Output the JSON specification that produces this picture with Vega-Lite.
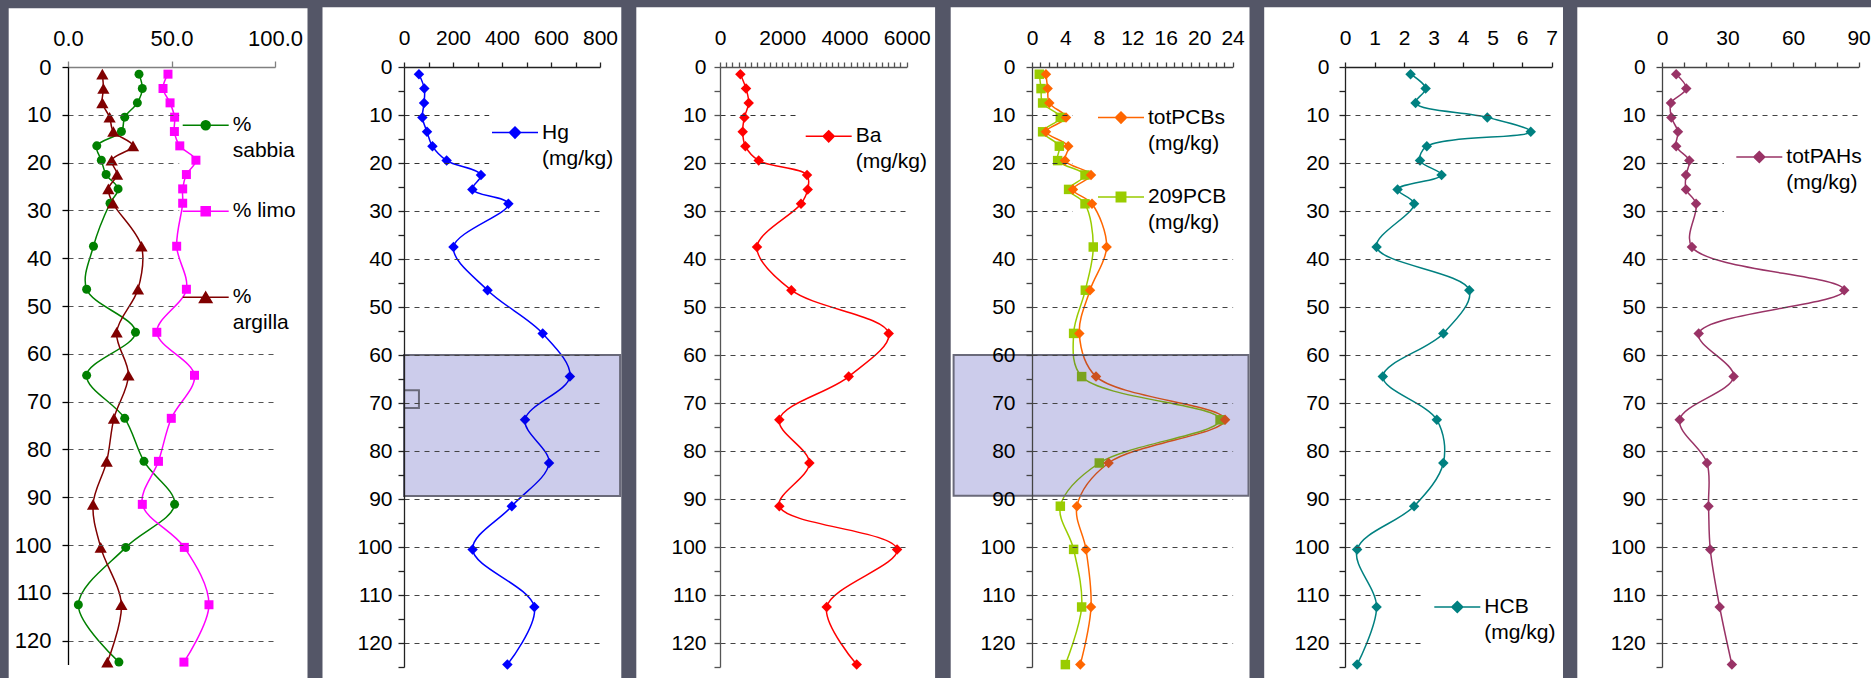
{
  "$schema": "https://vega.github.io/schema/vega-lite/v6.json",
  "background": "#545667",
  "padding": {"left": 8, "top": 7, "right": 0, "bottom": 0},
  "spacing": 14,
  "datasets": {
    "gran": [
      {"series": "% sabbia", "depth": 1.5, "value": 34.3}, {"series": "% sabbia", "depth": 4.5, "value": 35.9}, {"series": "% sabbia", "depth": 7.5, "value": 33.5}, {"series": "% sabbia", "depth": 10.5, "value": 27.4}, {"series": "% sabbia", "depth": 13.5, "value": 25.8}, {"series": "% sabbia", "depth": 16.5, "value": 13.9}, {"series": "% sabbia", "depth": 19.5, "value": 16.1}, {"series": "% sabbia", "depth": 22.5, "value": 18.4}, {"series": "% sabbia", "depth": 25.5, "value": 24.2}, {"series": "% sabbia", "depth": 28.5, "value": 20.3}, {"series": "% sabbia", "depth": 37.5, "value": 12.3}, {"series": "% sabbia", "depth": 46.5, "value": 9.0}, {"series": "% sabbia", "depth": 55.5, "value": 32.6}, {"series": "% sabbia", "depth": 64.5, "value": 9.0}, {"series": "% sabbia", "depth": 73.5, "value": 27.4}, {"series": "% sabbia", "depth": 82.5, "value": 36.7}, {"series": "% sabbia", "depth": 91.5, "value": 51.5}, {"series": "% sabbia", "depth": 100.5, "value": 27.9}, {"series": "% sabbia", "depth": 112.5, "value": 5.0}, {"series": "% sabbia", "depth": 124.5, "value": 24.6},
      {"series": "% limo", "depth": 1.5, "value": 48.3}, {"series": "% limo", "depth": 4.5, "value": 45.9}, {"series": "% limo", "depth": 7.5, "value": 49.3}, {"series": "% limo", "depth": 10.5, "value": 51.5}, {"series": "% limo", "depth": 13.5, "value": 51.4}, {"series": "% limo", "depth": 16.5, "value": 54.0}, {"series": "% limo", "depth": 19.5, "value": 61.8}, {"series": "% limo", "depth": 22.5, "value": 57.2}, {"series": "% limo", "depth": 25.5, "value": 55.4}, {"series": "% limo", "depth": 28.5, "value": 55.4}, {"series": "% limo", "depth": 37.5, "value": 52.5}, {"series": "% limo", "depth": 46.5, "value": 57.2}, {"series": "% limo", "depth": 55.5, "value": 42.9}, {"series": "% limo", "depth": 64.5, "value": 61.1}, {"series": "% limo", "depth": 73.5, "value": 49.9}, {"series": "% limo", "depth": 82.5, "value": 43.7}, {"series": "% limo", "depth": 91.5, "value": 35.9}, {"series": "% limo", "depth": 100.5, "value": 56.2}, {"series": "% limo", "depth": 112.5, "value": 68.1}, {"series": "% limo", "depth": 124.5, "value": 56.0},
      {"series": "% argilla", "depth": 1.5, "value": 16.6}, {"series": "% argilla", "depth": 4.5, "value": 17.1}, {"series": "% argilla", "depth": 7.5, "value": 16.6}, {"series": "% argilla", "depth": 10.5, "value": 20.1}, {"series": "% argilla", "depth": 13.5, "value": 21.9}, {"series": "% argilla", "depth": 16.5, "value": 31.4}, {"series": "% argilla", "depth": 19.5, "value": 21.1}, {"series": "% argilla", "depth": 22.5, "value": 23.7}, {"series": "% argilla", "depth": 25.5, "value": 19.5}, {"series": "% argilla", "depth": 28.5, "value": 21.7}, {"series": "% argilla", "depth": 37.5, "value": 35.5}, {"series": "% argilla", "depth": 46.5, "value": 33.8}, {"series": "% argilla", "depth": 55.5, "value": 23.5}, {"series": "% argilla", "depth": 64.5, "value": 29.2}, {"series": "% argilla", "depth": 73.5, "value": 22.2}, {"series": "% argilla", "depth": 82.5, "value": 18.7}, {"series": "% argilla", "depth": 91.5, "value": 12.1}, {"series": "% argilla", "depth": 100.5, "value": 15.8}, {"series": "% argilla", "depth": 112.5, "value": 25.8}, {"series": "% argilla", "depth": 124.5, "value": 19.0}
    ],
    "hg": [
      {"series": "Hg (mg/kg)", "depth": 1.5, "value": 61}, {"series": "Hg (mg/kg)", "depth": 4.5, "value": 83}, {"series": "Hg (mg/kg)", "depth": 7.5, "value": 82}, {"series": "Hg (mg/kg)", "depth": 10.5, "value": 75}, {"series": "Hg (mg/kg)", "depth": 13.5, "value": 94}, {"series": "Hg (mg/kg)", "depth": 16.5, "value": 116}, {"series": "Hg (mg/kg)", "depth": 19.5, "value": 174}, {"series": "Hg (mg/kg)", "depth": 22.5, "value": 314}, {"series": "Hg (mg/kg)", "depth": 25.5, "value": 279}, {"series": "Hg (mg/kg)", "depth": 28.5, "value": 426}, {"series": "Hg (mg/kg)", "depth": 37.5, "value": 202}, {"series": "Hg (mg/kg)", "depth": 46.5, "value": 341}, {"series": "Hg (mg/kg)", "depth": 55.5, "value": 566}, {"series": "Hg (mg/kg)", "depth": 64.5, "value": 677}, {"series": "Hg (mg/kg)", "depth": 73.5, "value": 494}, {"series": "Hg (mg/kg)", "depth": 82.5, "value": 592}, {"series": "Hg (mg/kg)", "depth": 91.5, "value": 440}, {"series": "Hg (mg/kg)", "depth": 100.5, "value": 280}, {"series": "Hg (mg/kg)", "depth": 112.5, "value": 532}, {"series": "Hg (mg/kg)", "depth": 124.5, "value": 422}
    ],
    "ba": [
      {"series": "Ba (mg/kg)", "depth": 1.5, "value": 655}, {"series": "Ba (mg/kg)", "depth": 4.5, "value": 836}, {"series": "Ba (mg/kg)", "depth": 7.5, "value": 922}, {"series": "Ba (mg/kg)", "depth": 10.5, "value": 784}, {"series": "Ba (mg/kg)", "depth": 13.5, "value": 729}, {"series": "Ba (mg/kg)", "depth": 16.5, "value": 815}, {"series": "Ba (mg/kg)", "depth": 19.5, "value": 1243}, {"series": "Ba (mg/kg)", "depth": 22.5, "value": 2797}, {"series": "Ba (mg/kg)", "depth": 25.5, "value": 2818}, {"series": "Ba (mg/kg)", "depth": 28.5, "value": 2604}, {"series": "Ba (mg/kg)", "depth": 37.5, "value": 1190}, {"series": "Ba (mg/kg)", "depth": 46.5, "value": 2293}, {"series": "Ba (mg/kg)", "depth": 55.5, "value": 5422}, {"series": "Ba (mg/kg)", "depth": 64.5, "value": 4136}, {"series": "Ba (mg/kg)", "depth": 73.5, "value": 1907}, {"series": "Ba (mg/kg)", "depth": 82.5, "value": 2872}, {"series": "Ba (mg/kg)", "depth": 91.5, "value": 1907}, {"series": "Ba (mg/kg)", "depth": 100.5, "value": 5690}, {"series": "Ba (mg/kg)", "depth": 112.5, "value": 3429}, {"series": "Ba (mg/kg)", "depth": 124.5, "value": 4393}
    ],
    "pcb": [
      {"series": "totPCBs (mg/kg)", "depth": 1.5, "value": 1.67}, {"series": "totPCBs (mg/kg)", "depth": 4.5, "value": 1.87}, {"series": "totPCBs (mg/kg)", "depth": 7.5, "value": 2.07}, {"series": "totPCBs (mg/kg)", "depth": 10.5, "value": 4.07}, {"series": "totPCBs (mg/kg)", "depth": 13.5, "value": 1.67}, {"series": "totPCBs (mg/kg)", "depth": 16.5, "value": 4.34}, {"series": "totPCBs (mg/kg)", "depth": 19.5, "value": 3.95}, {"series": "totPCBs (mg/kg)", "depth": 22.5, "value": 7.06}, {"series": "totPCBs (mg/kg)", "depth": 25.5, "value": 4.9}, {"series": "totPCBs (mg/kg)", "depth": 28.5, "value": 7.18}, {"series": "totPCBs (mg/kg)", "depth": 37.5, "value": 8.93}, {"series": "totPCBs (mg/kg)", "depth": 46.5, "value": 6.94}, {"series": "totPCBs (mg/kg)", "depth": 55.5, "value": 5.66}, {"series": "totPCBs (mg/kg)", "depth": 64.5, "value": 7.66}, {"series": "totPCBs (mg/kg)", "depth": 73.5, "value": 23.1}, {"series": "totPCBs (mg/kg)", "depth": 82.5, "value": 9.16}, {"series": "totPCBs (mg/kg)", "depth": 91.5, "value": 5.38}, {"series": "totPCBs (mg/kg)", "depth": 100.5, "value": 6.46}, {"series": "totPCBs (mg/kg)", "depth": 112.5, "value": 7.06}, {"series": "totPCBs (mg/kg)", "depth": 124.5, "value": 5.78},
      {"series": "209PCB (mg/kg)", "depth": 1.5, "value": 0.87}, {"series": "209PCB (mg/kg)", "depth": 4.5, "value": 1.08}, {"series": "209PCB (mg/kg)", "depth": 7.5, "value": 1.27}, {"series": "209PCB (mg/kg)", "depth": 10.5, "value": 3.39}, {"series": "209PCB (mg/kg)", "depth": 13.5, "value": 1.27}, {"series": "209PCB (mg/kg)", "depth": 16.5, "value": 3.27}, {"series": "209PCB (mg/kg)", "depth": 19.5, "value": 3.07}, {"series": "209PCB (mg/kg)", "depth": 22.5, "value": 6.34}, {"series": "209PCB (mg/kg)", "depth": 25.5, "value": 4.38}, {"series": "209PCB (mg/kg)", "depth": 28.5, "value": 6.34}, {"series": "209PCB (mg/kg)", "depth": 37.5, "value": 7.33}, {"series": "209PCB (mg/kg)", "depth": 46.5, "value": 6.38}, {"series": "209PCB (mg/kg)", "depth": 55.5, "value": 4.98}, {"series": "209PCB (mg/kg)", "depth": 64.5, "value": 5.94}, {"series": "209PCB (mg/kg)", "depth": 73.5, "value": 22.5}, {"series": "209PCB (mg/kg)", "depth": 82.5, "value": 8.05}, {"series": "209PCB (mg/kg)", "depth": 91.5, "value": 3.39}, {"series": "209PCB (mg/kg)", "depth": 100.5, "value": 4.98}, {"series": "209PCB (mg/kg)", "depth": 112.5, "value": 5.94}, {"series": "209PCB (mg/kg)", "depth": 124.5, "value": 3.99}
    ],
    "hcb": [
      {"series": "HCB (mg/kg)", "depth": 1.5, "value": 2.22}, {"series": "HCB (mg/kg)", "depth": 4.5, "value": 2.73}, {"series": "HCB (mg/kg)", "depth": 7.5, "value": 2.39}, {"series": "HCB (mg/kg)", "depth": 10.5, "value": 4.82}, {"series": "HCB (mg/kg)", "depth": 13.5, "value": 6.29}, {"series": "HCB (mg/kg)", "depth": 16.5, "value": 2.77}, {"series": "HCB (mg/kg)", "depth": 19.5, "value": 2.54}, {"series": "HCB (mg/kg)", "depth": 22.5, "value": 3.27}, {"series": "HCB (mg/kg)", "depth": 25.5, "value": 1.78}, {"series": "HCB (mg/kg)", "depth": 28.5, "value": 2.34}, {"series": "HCB (mg/kg)", "depth": 37.5, "value": 1.07}, {"series": "HCB (mg/kg)", "depth": 46.5, "value": 4.21}, {"series": "HCB (mg/kg)", "depth": 55.5, "value": 3.33}, {"series": "HCB (mg/kg)", "depth": 64.5, "value": 1.28}, {"series": "HCB (mg/kg)", "depth": 73.5, "value": 3.11}, {"series": "HCB (mg/kg)", "depth": 82.5, "value": 3.33}, {"series": "HCB (mg/kg)", "depth": 91.5, "value": 2.34}, {"series": "HCB (mg/kg)", "depth": 100.5, "value": 0.41}, {"series": "HCB (mg/kg)", "depth": 112.5, "value": 1.07}, {"series": "HCB (mg/kg)", "depth": 124.5, "value": 0.41}
    ],
    "pah": [
      {"series": "totPAHs (mg/kg)", "depth": 1.5, "value": 6.5}, {"series": "totPAHs (mg/kg)", "depth": 4.5, "value": 11.1}, {"series": "totPAHs (mg/kg)", "depth": 7.5, "value": 4.1}, {"series": "totPAHs (mg/kg)", "depth": 10.5, "value": 4.3}, {"series": "totPAHs (mg/kg)", "depth": 13.5, "value": 7.3}, {"series": "totPAHs (mg/kg)", "depth": 16.5, "value": 6.5}, {"series": "totPAHs (mg/kg)", "depth": 19.5, "value": 12.5}, {"series": "totPAHs (mg/kg)", "depth": 22.5, "value": 11.0}, {"series": "totPAHs (mg/kg)", "depth": 25.5, "value": 11.0}, {"series": "totPAHs (mg/kg)", "depth": 28.5, "value": 15.6}, {"series": "totPAHs (mg/kg)", "depth": 37.5, "value": 13.7}, {"series": "totPAHs (mg/kg)", "depth": 46.5, "value": 83.4}, {"series": "totPAHs (mg/kg)", "depth": 55.5, "value": 16.8}, {"series": "totPAHs (mg/kg)", "depth": 64.5, "value": 32.8}, {"series": "totPAHs (mg/kg)", "depth": 73.5, "value": 8.1}, {"series": "totPAHs (mg/kg)", "depth": 82.5, "value": 20.6}, {"series": "totPAHs (mg/kg)", "depth": 91.5, "value": 21.3}, {"series": "totPAHs (mg/kg)", "depth": 100.5, "value": 22.1}, {"series": "totPAHs (mg/kg)", "depth": 112.5, "value": 26.4}, {"series": "totPAHs (mg/kg)", "depth": 124.5, "value": 32.0}
    ]
  },
  "hconcat": [
    {
      "width": 207, "height": 597.5,
      "resolve": {"axis": {"x": "independent", "y": "independent"}},
      "layer": [
        {
          "data": {"values": [{}]},
          "mark": {"type": "rect", "fill": "#ffffff", "clip": false},
          "encoding": {
            "x": {"datum": -28.65, "type": "quantitative", "scale": {"domain": [0, 100], "nice": false, "zero": false}, "axis": null},
            "x2": {"datum": 115.7},
            "y": {"datum": -12.28, "type": "quantitative", "scale": {"domain": [0, 125], "reverse": true, "nice": false, "zero": false},
              "axis": {"orient": "left", "title": null, "zindex": 1, "values": [10, 20, 30, 40, 50], "labels": false, "domain": false, "grid": false, "ticks": true, "tickSize": -110.7, "tickDash": [5, 5], "tickColor": "#555555", "tickWidth": 1.2}},
            "y2": {"datum": 128.1}
          }
        },
        {
          "data": {"name": "gran"},
          "mark": {"type": "line", "interpolate": "catmull-rom", "strokeWidth": 1.5},
          "encoding": {
            "x": {"field": "value", "type": "quantitative", "scale": {"domain": [0, 100], "nice": false, "zero": false},
              "axis": {"orient": "top", "title": null, "zindex": 1, "values": [0, 50, 100], "format": ".1f", "grid": false, "domainColor": "#808080", "tickColor": "#808080", "tickSize": 6, "labelPadding": 11, "labelFontSize": 22}},
            "y": {"field": "depth", "type": "quantitative", "scale": {"domain": [0, 125], "reverse": true, "nice": false, "zero": false},
              "axis": {"orient": "left", "title": null, "zindex": 1, "values": [0, 10, 20, 30, 40, 50, 60, 70, 80, 90, 100, 110, 120], "format": "d", "domainColor": "#000000", "tickColor": "#000000", "tickSize": 6, "labelPadding": 11, "labelFontSize": 22, "grid": true, "gridColor": "#555555", "gridDash": [5, 5], "gridWidth": 1.2, "gridOpacity": {"condition": {"test": "datum.value >= 60", "value": 1}, "value": 0}}},
            "color": {"field": "series", "type": "nominal", "scale": {"domain": ["% sabbia", "% limo", "% argilla"], "range": ["#008000", "#ff00ff", "#800000"]},
              "legend": {"orient": "none", "legendX": 109.7, "legendY": 30.3, "title": null, "padding": 4, "symbolSize": 2116, "symbolStrokeWidth": 1.5, "gridAlign": "all", "rowPadding": 26, "labelOffset": 3, "labelFont": "Liberation Sans", "labelFontSize": 21, "labelColor": "#000000", "labelLimit": 0,
                "labelExpr": "datum.label == '% limo' ? datum.label : split(datum.label, ' ')", "zindex": 2,
                "encoding": {
                  "symbols": {
                    "shape": {"value": {"expr": "datum.value == '% sabbia' ? 'M-1,0L1,0M-0.196,0A0.196,0.196,0,1,1,0.196,0A0.196,0.196,0,1,1,-0.196,0Z' : datum.value == '% limo' ? 'M-1,0L1,0M-0.196,-0.196L0.196,-0.196L0.196,0.196L-0.196,0.196Z' : 'M-1,0L1,0M0,-0.23L0.27,0.23L-0.27,0.23Z'"}},
                    "fill": {"value": {"expr": "datum.value == '% sabbia' ? '#008000' : datum.value == '% limo' ? '#ff00ff' : '#800000'"}},
                    "stroke": {"value": {"expr": "datum.value == '% sabbia' ? '#008000' : datum.value == '% limo' ? '#ff00ff' : '#800000'"}},
                    "strokeWidth": {"value": 1.5},
                    "opacity": {"value": 1}
                  },
                  "labels": {"lineHeight": {"value": 26}}
                }}},
            "order": {"field": "depth", "type": "quantitative"}
          }
        },
        {
          "data": {"name": "gran"},
          "transform": [{"filter": "datum.series == '% sabbia'"}],
          "mark": {"type": "point", "filled": true, "opacity": 1, "strokeWidth": 0, "shape": "circle", "size": 81, "color": "#008000"},
          "encoding": {
            "x": {"field": "value", "type": "quantitative", "scale": {"domain": [0, 100], "nice": false, "zero": false}, "axis": null},
            "y": {"field": "depth", "type": "quantitative", "scale": {"domain": [0, 125], "reverse": true, "nice": false, "zero": false}, "axis": null}
          }
        },
        {
          "data": {"name": "gran"},
          "transform": [{"filter": "datum.series == '% limo'"}],
          "mark": {"type": "point", "filled": true, "opacity": 1, "strokeWidth": 0, "shape": "square", "size": 81, "color": "#ff00ff"},
          "encoding": {
            "x": {"field": "value", "type": "quantitative", "scale": {"domain": [0, 100], "nice": false, "zero": false}, "axis": null},
            "y": {"field": "depth", "type": "quantitative", "scale": {"domain": [0, 125], "reverse": true, "nice": false, "zero": false}, "axis": null}
          }
        },
        {
          "data": {"name": "gran"},
          "transform": [{"filter": "datum.series == '% argilla'"}],
          "mark": {"type": "point", "filled": true, "opacity": 1, "strokeWidth": 0, "shape": "triangle-up", "size": 150, "color": "#800000"},
          "encoding": {
            "x": {"field": "value", "type": "quantitative", "scale": {"domain": [0, 100], "nice": false, "zero": false}, "axis": null},
            "y": {"field": "depth", "type": "quantitative", "scale": {"domain": [0, 125], "reverse": true, "nice": false, "zero": false}, "axis": null}
          }
        }
      ]
    },
    {
      "width": 196, "height": 600,
      "resolve": {"axis": {"x": "independent", "y": "independent"}},
      "layer": [
        {
          "data": {"values": [{}]},
          "mark": {"type": "rect", "fill": "#ffffff", "clip": false},
          "encoding": {
            "x": {"datum": -332.65, "type": "quantitative", "scale": {"domain": [0, 800], "nice": false, "zero": false}, "axis": null},
            "x2": {"datum": 886.9},
            "y": {"datum": -12.4375, "type": "quantitative", "scale": {"domain": [0, 125], "reverse": true, "nice": false, "zero": false},
              "axis": {"orient": "left", "title": null, "zindex": 1, "values": [10, 20], "labels": false, "domain": false, "grid": false, "ticks": true, "tickSize": -84.7, "tickDash": [5, 5], "tickColor": "#333333", "tickWidth": 1.2}},
            "y2": {"datum": 127.35}
          }
        },
        {
          "data": {"name": "hg"},
          "mark": {"type": "line", "interpolate": "catmull-rom", "strokeWidth": 1.5},
          "encoding": {
            "x": {"field": "value", "type": "quantitative", "scale": {"domain": [0, 800], "nice": false, "zero": false},
              "axis": {"orient": "top", "title": null, "zindex": 1, "values": [0, 100, 200, 300, 400, 500, 600, 700, 800], "format": "d", "labelExpr": "datum.value % 200 == 0 ? datum.label : ''", "grid": false, "domainColor": "#222222", "tickColor": "#222222", "tickSize": 5, "labelPadding": 14}},
            "y": {"field": "depth", "type": "quantitative", "scale": {"domain": [0, 125], "reverse": true, "nice": false, "zero": false},
              "axis": {"orient": "left", "title": null, "zindex": 1, "values": [0, 5, 10, 15, 20, 25, 30, 35, 40, 45, 50, 55, 60, 65, 70, 75, 80, 85, 90, 95, 100, 105, 110, 115, 120, 125], "format": "d", "labelExpr": "datum.value % 10 == 0 && datum.value < 125 ? datum.label : ''", "domainColor": "#222222", "tickColor": "#222222", "tickSize": 6, "labelPadding": 6, "grid": true, "gridColor": "#444444", "gridDash": [5, 5], "gridWidth": 1.2, "gridOpacity": {"condition": {"test": "datum.value % 10 == 0 && datum.value >= 30 && datum.value < 125", "value": 1}, "value": 0}}},
            "color": {"field": "series", "type": "nominal", "scale": {"domain": ["Hg (mg/kg)"], "range": ["#0000ff"]},
              "legend": {"orient": "none", "legendX": 83, "legendY": 37.6, "title": null, "padding": 4, "symbolSize": 2116, "symbolStrokeWidth": 1.5, "labelOffset": 3, "labelFont": "Liberation Sans", "labelFontSize": 21, "labelColor": "#000000", "labelLimit": 0,
                "labelExpr": "split(datum.label, ' ')", "zindex": 2,
                "encoding": {
                  "symbols": {
                    "shape": {"value": "M-1,0L1,0M0,-0.24L0.24,0L0,0.24L-0.24,0Z"},
                    "fill": {"value": "#0000ff"}, "stroke": {"value": "#0000ff"}, "strokeWidth": {"value": 1.5}, "opacity": {"value": 1}
                  },
                  "labels": {"lineHeight": {"value": 26}}
                }}},
            "order": {"field": "depth", "type": "quantitative"}
          }
        },
        {
          "data": {"name": "hg"},
          "mark": {"type": "point", "filled": true, "opacity": 1, "strokeWidth": 0, "shape": "diamond", "size": 110, "color": "#0000ff"},
          "encoding": {
            "x": {"field": "value", "type": "quantitative", "scale": {"domain": [0, 800], "nice": false, "zero": false}, "axis": null},
            "y": {"field": "depth", "type": "quantitative", "scale": {"domain": [0, 125], "reverse": true, "nice": false, "zero": false}, "axis": null}
          }
        },
        {
          "data": {"values": [{}]},
          "mark": {"type": "rect", "fill": "#000099", "fillOpacity": 0.2, "stroke": "#6a6a7a", "strokeWidth": 2, "clip": false},
          "encoding": {
            "x": {"datum": 0, "type": "quantitative", "scale": {"domain": [0, 800], "nice": false, "zero": false}, "axis": null},
            "x2": {"datum": 882},
            "y": {"datum": 60, "type": "quantitative", "scale": {"domain": [0, 125], "reverse": true, "nice": false, "zero": false}, "axis": null},
            "y2": {"datum": 89.4}
          }
        },
        {
          "data": {"values": [{}]},
          "mark": {"type": "rect", "fillOpacity": 0, "stroke": "#6a6a7a", "strokeWidth": 2, "clip": false},
          "encoding": {
            "x": {"datum": 0, "type": "quantitative", "scale": {"domain": [0, 800], "nice": false, "zero": false}, "axis": null},
            "x2": {"datum": 61},
            "y": {"datum": 67.35, "type": "quantitative", "scale": {"domain": [0, 125], "reverse": true, "nice": false, "zero": false}, "axis": null},
            "y2": {"datum": 71.04}
          }
        }
      ]
    },
    {
      "width": 186.7, "height": 600,
      "resolve": {"axis": {"x": "independent", "y": "independent"}},
      "layer": [
        {
          "data": {"values": [{}]},
          "mark": {"type": "rect", "fill": "#ffffff", "clip": false},
          "encoding": {
            "x": {"datum": -2689.9, "type": "quantitative", "scale": {"domain": [0, 6000], "nice": false, "zero": false}, "axis": null},
            "x2": {"datum": 6912.6},
            "y": {"datum": -12.4375, "type": "quantitative", "scale": {"domain": [0, 125], "reverse": true, "nice": false, "zero": false},
              "axis": {"orient": "left", "title": null, "zindex": 1, "values": [10, 20], "labels": false, "domain": false, "grid": false, "ticks": true, "tickSize": -75.7, "tickDash": [5, 5], "tickColor": "#333333", "tickWidth": 1.2}},
            "y2": {"datum": 127.35}
          }
        },
        {
          "data": {"name": "ba"},
          "mark": {"type": "line", "interpolate": "catmull-rom", "strokeWidth": 1.5},
          "encoding": {
            "x": {"field": "value", "type": "quantitative", "scale": {"domain": [0, 6000], "nice": false, "zero": false},
              "axis": {"orient": "top", "title": null, "zindex": 1, "values": [0, 200, 400, 600, 800, 1000, 1200, 1400, 1600, 1800, 2000, 2200, 2400, 2600, 2800, 3000, 3200, 3400, 3600, 3800, 4000, 4200, 4400, 4600, 4800, 5000, 5200, 5400, 5600, 5800, 6000], "format": "d", "labelExpr": "datum.value % 2000 == 0 ? datum.label : ''", "grid": false, "domainColor": "#555555", "tickColor": "#555555", "tickSize": 5, "labelPadding": 14}},
            "y": {"field": "depth", "type": "quantitative", "scale": {"domain": [0, 125], "reverse": true, "nice": false, "zero": false},
              "axis": {"orient": "left", "title": null, "zindex": 1, "values": [0, 5, 10, 15, 20, 25, 30, 35, 40, 45, 50, 55, 60, 65, 70, 75, 80, 85, 90, 95, 100, 105, 110, 115, 120, 125], "format": "d", "labelExpr": "datum.value % 10 == 0 && datum.value < 125 ? datum.label : ''", "domainColor": "#555555", "tickColor": "#555555", "tickSize": 6, "labelPadding": 8, "grid": true, "gridColor": "#444444", "gridDash": [5, 5], "gridWidth": 1.2, "gridOpacity": {"condition": {"test": "datum.value % 10 == 0 && datum.value >= 30 && datum.value < 125", "value": 1}, "value": 0}}},
            "color": {"field": "series", "type": "nominal", "scale": {"domain": ["Ba (mg/kg)"], "range": ["#ff0000"]},
              "legend": {"orient": "none", "legendX": 80.7, "legendY": 41.3, "title": null, "padding": 4, "symbolSize": 2116, "symbolStrokeWidth": 1.5, "labelOffset": 3, "labelFont": "Liberation Sans", "labelFontSize": 21, "labelColor": "#000000", "labelLimit": 0,
                "labelExpr": "split(datum.label, ' ')", "zindex": 2,
                "encoding": {
                  "symbols": {
                    "shape": {"value": "M-1,0L1,0M0,-0.24L0.24,0L0,0.24L-0.24,0Z"},
                    "fill": {"value": "#ff0000"}, "stroke": {"value": "#ff0000"}, "strokeWidth": {"value": 1.5}, "opacity": {"value": 1}
                  },
                  "labels": {"lineHeight": {"value": 26}}
                }}},
            "order": {"field": "depth", "type": "quantitative"}
          }
        },
        {
          "data": {"name": "ba"},
          "mark": {"type": "point", "filled": true, "opacity": 1, "strokeWidth": 0, "shape": "diamond", "size": 110, "color": "#ff0000"},
          "encoding": {
            "x": {"field": "value", "type": "quantitative", "scale": {"domain": [0, 6000], "nice": false, "zero": false}, "axis": null},
            "y": {"field": "depth", "type": "quantitative", "scale": {"domain": [0, 125], "reverse": true, "nice": false, "zero": false}, "axis": null}
          }
        }
      ]
    },
    {
      "width": 200.6, "height": 600,
      "resolve": {"axis": {"x": "independent", "y": "independent"}},
      "layer": [
        {
          "data": {"values": [{}]},
          "mark": {"type": "rect", "fill": "#ffffff", "clip": false},
          "encoding": {
            "x": {"datum": -9.727, "type": "quantitative", "scale": {"domain": [0, 24], "nice": false, "zero": false}, "axis": null},
            "x2": {"datum": 26.022},
            "y": {"datum": -12.4375, "type": "quantitative", "scale": {"domain": [0, 125], "reverse": true, "nice": false, "zero": false},
              "axis": {"orient": "left", "title": null, "zindex": 1, "values": [10, 20, 30], "labels": false, "domain": false, "grid": false, "ticks": true, "tickSize": -40.3, "tickDash": [5, 5], "tickColor": "#333333", "tickWidth": 1.2}},
            "y2": {"datum": 127.35}
          }
        },
        {
          "data": {"name": "pcb"},
          "mark": {"type": "line", "interpolate": "catmull-rom", "strokeWidth": 1.5},
          "encoding": {
            "x": {"field": "value", "type": "quantitative", "scale": {"domain": [0, 24], "nice": false, "zero": false},
              "axis": {"orient": "top", "title": null, "zindex": 1, "values": [0, 1, 2, 3, 4, 5, 6, 7, 8, 9, 10, 11, 12, 13, 14, 15, 16, 17, 18, 19, 20, 21, 22, 23, 24], "format": "d", "labelExpr": "datum.value % 4 == 0 ? datum.label : ''", "grid": false, "domainColor": "#444444", "tickColor": "#444444", "tickSize": 5, "labelPadding": 14}},
            "y": {"field": "depth", "type": "quantitative", "scale": {"domain": [0, 125], "reverse": true, "nice": false, "zero": false},
              "axis": {"orient": "left", "title": null, "zindex": 1, "values": [0, 5, 10, 15, 20, 25, 30, 35, 40, 45, 50, 55, 60, 65, 70, 75, 80, 85, 90, 95, 100, 105, 110, 115, 120, 125], "format": "d", "labelExpr": "datum.value % 10 == 0 && datum.value < 125 ? datum.label : ''", "domainColor": "#444444", "tickColor": "#444444", "tickSize": 6, "labelPadding": 11, "grid": true, "gridColor": "#444444", "gridDash": [5, 5], "gridWidth": 1.2, "gridOpacity": {"condition": {"test": "datum.value % 10 == 0 && datum.value >= 40 && datum.value < 125", "value": 1}, "value": 0}}},
            "color": {"field": "series", "type": "nominal", "scale": {"domain": ["totPCBs (mg/kg)", "209PCB (mg/kg)"], "range": ["#ff6600", "#99cc00"]},
              "legend": {"orient": "none", "legendX": 61, "legendY": 22.6, "title": null, "padding": 4, "symbolSize": 2116, "symbolStrokeWidth": 1.5, "gridAlign": "all", "rowPadding": 19.4, "labelOffset": 3, "labelFont": "Liberation Sans", "labelFontSize": 21, "labelColor": "#000000", "labelLimit": 0,
                "labelExpr": "split(datum.label, ' ')", "zindex": 2,
                "encoding": {
                  "symbols": {
                    "shape": {"value": {"expr": "datum.value == 'totPCBs (mg/kg)' ? 'M-1,0L1,0M0,-0.24L0.24,0L0,0.24L-0.24,0Z' : 'M-1,0L1,0M-0.205,-0.205L0.205,-0.205L0.205,0.205L-0.205,0.205Z'"}},
                    "fill": {"value": {"expr": "datum.value == 'totPCBs (mg/kg)' ? '#ff6600' : '#99cc00'"}},
                    "stroke": {"value": {"expr": "datum.value == 'totPCBs (mg/kg)' ? '#ff6600' : '#99cc00'"}},
                    "strokeWidth": {"value": 1.5},
                    "opacity": {"value": 1}
                  },
                  "labels": {"lineHeight": {"value": 26}}
                }}},
            "order": {"field": "depth", "type": "quantitative"}
          }
        },
        {
          "data": {"name": "pcb"},
          "transform": [{"filter": "datum.series == '209PCB (mg/kg)'"}],
          "mark": {"type": "point", "filled": true, "opacity": 1, "strokeWidth": 0, "shape": "square", "size": 90, "color": "#99cc00"},
          "encoding": {
            "x": {"field": "value", "type": "quantitative", "scale": {"domain": [0, 24], "nice": false, "zero": false}, "axis": null},
            "y": {"field": "depth", "type": "quantitative", "scale": {"domain": [0, 125], "reverse": true, "nice": false, "zero": false}, "axis": null}
          }
        },
        {
          "data": {"name": "pcb"},
          "transform": [{"filter": "datum.series == 'totPCBs (mg/kg)'"}],
          "mark": {"type": "point", "filled": true, "opacity": 1, "strokeWidth": 0, "shape": "diamond", "size": 110, "color": "#ff6600"},
          "encoding": {
            "x": {"field": "value", "type": "quantitative", "scale": {"domain": [0, 24], "nice": false, "zero": false}, "axis": null},
            "y": {"field": "depth", "type": "quantitative", "scale": {"domain": [0, 125], "reverse": true, "nice": false, "zero": false}, "axis": null}
          }
        },
        {
          "data": {"values": [{}]},
          "mark": {"type": "rect", "fill": "#000099", "fillOpacity": 0.2, "stroke": "#6a6a7a", "strokeWidth": 2, "clip": false},
          "encoding": {
            "x": {"datum": -9.38, "type": "quantitative", "scale": {"domain": [0, 24], "nice": false, "zero": false}, "axis": null},
            "x2": {"datum": 25.9},
            "y": {"datum": 60, "type": "quantitative", "scale": {"domain": [0, 125], "reverse": true, "nice": false, "zero": false}, "axis": null},
            "y2": {"datum": 89.3}
          }
        }
      ]
    },
    {
      "width": 206.7, "height": 600,
      "resolve": {"axis": {"x": "independent", "y": "independent"}},
      "layer": [
        {
          "data": {"values": [{}]},
          "mark": {"type": "rect", "fill": "#ffffff", "clip": false},
          "encoding": {
            "x": {"datum": -2.7363, "type": "quantitative", "scale": {"domain": [0, 7], "nice": false, "zero": false}, "axis": null},
            "x2": {"datum": 7.3826},
            "y": {"datum": -12.4375, "type": "quantitative", "scale": {"domain": [0, 125], "reverse": true, "nice": false, "zero": false},
              "axis": {"orient": "left", "title": null, "zindex": 1, "values": [110, 120], "labels": false, "domain": false, "grid": false, "ticks": true, "tickSize": -77, "tickDash": [5, 5], "tickColor": "#333333", "tickWidth": 1.2}},
            "y2": {"datum": 127.35}
          }
        },
        {
          "data": {"name": "hcb"},
          "mark": {"type": "line", "interpolate": "catmull-rom", "strokeWidth": 1.5},
          "encoding": {
            "x": {"field": "value", "type": "quantitative", "scale": {"domain": [0, 7], "nice": false, "zero": false},
              "axis": {"orient": "top", "title": null, "zindex": 1, "values": [0, 0.5, 1, 1.5, 2, 2.5, 3, 3.5, 4, 4.5, 5, 5.5, 6, 6.5, 7], "format": "d", "labelExpr": "datum.value % 1 == 0 ? datum.label : ''", "grid": false, "domainColor": "#222222", "tickColor": "#222222", "tickSize": 5, "labelPadding": 14}},
            "y": {"field": "depth", "type": "quantitative", "scale": {"domain": [0, 125], "reverse": true, "nice": false, "zero": false},
              "axis": {"orient": "left", "title": null, "zindex": 1, "values": [0, 5, 10, 15, 20, 25, 30, 35, 40, 45, 50, 55, 60, 65, 70, 75, 80, 85, 90, 95, 100, 105, 110, 115, 120, 125], "format": "d", "labelExpr": "datum.value % 10 == 0 && datum.value < 125 ? datum.label : ''", "domainColor": "#222222", "tickColor": "#222222", "tickSize": 6, "labelPadding": 10, "grid": true, "gridColor": "#444444", "gridDash": [5, 5], "gridWidth": 1.2, "gridOpacity": {"condition": {"test": "datum.value % 10 == 0 && datum.value > 0 && datum.value <= 100", "value": 1}, "value": 0}}},
            "color": {"field": "series", "type": "nominal", "scale": {"domain": ["HCB (mg/kg)"], "range": ["#008080"]},
              "legend": {"orient": "none", "legendX": 84.3, "legendY": 512, "title": null, "padding": 4, "symbolSize": 2116, "symbolStrokeWidth": 1.5, "labelOffset": 3, "labelFont": "Liberation Sans", "labelFontSize": 21, "labelColor": "#000000", "labelLimit": 0,
                "labelExpr": "split(datum.label, ' ')", "zindex": 2,
                "encoding": {
                  "symbols": {
                    "shape": {"value": "M-1,0L1,0M0,-0.24L0.24,0L0,0.24L-0.24,0Z"},
                    "fill": {"value": "#008080"}, "stroke": {"value": "#008080"}, "strokeWidth": {"value": 1.5}, "opacity": {"value": 1}
                  },
                  "labels": {"lineHeight": {"value": 26}}
                }}},
            "order": {"field": "depth", "type": "quantitative"}
          }
        },
        {
          "data": {"name": "hcb"},
          "mark": {"type": "point", "filled": true, "opacity": 1, "strokeWidth": 0, "shape": "diamond", "size": 110, "color": "#008080"},
          "encoding": {
            "x": {"field": "value", "type": "quantitative", "scale": {"domain": [0, 7], "nice": false, "zero": false}, "axis": null},
            "y": {"field": "depth", "type": "quantitative", "scale": {"domain": [0, 125], "reverse": true, "nice": false, "zero": false}, "axis": null}
          }
        }
      ]
    },
    {
      "width": 196.6, "height": 600,
      "resolve": {"axis": {"x": "independent", "y": "independent"}},
      "layer": [
        {
          "data": {"values": [{}]},
          "mark": {"type": "rect", "fill": "#ffffff", "clip": false},
          "encoding": {
            "x": {"datum": -38.774, "type": "quantitative", "scale": {"domain": [0, 90], "nice": false, "zero": false}, "axis": null},
            "x2": {"datum": 98.01},
            "y": {"datum": -12.4375, "type": "quantitative", "scale": {"domain": [0, 125], "reverse": true, "nice": false, "zero": false},
              "axis": {"orient": "left", "title": null, "zindex": 1, "values": [20, 30], "labels": false, "domain": false, "grid": false, "ticks": true, "tickSize": -61.3, "tickDash": [5, 5], "tickColor": "#333333", "tickWidth": 1.2}},
            "y2": {"datum": 127.35}
          }
        },
        {
          "data": {"name": "pah"},
          "mark": {"type": "line", "interpolate": "catmull-rom", "strokeWidth": 1.5},
          "encoding": {
            "x": {"field": "value", "type": "quantitative", "scale": {"domain": [0, 90], "nice": false, "zero": false},
              "axis": {"orient": "top", "title": null, "zindex": 1, "values": [0, 10, 20, 30, 40, 50, 60, 70, 80, 90], "format": "d", "labelExpr": "datum.value % 30 == 0 ? datum.label : ''", "grid": false, "domainColor": "#444444", "tickColor": "#444444", "tickSize": 5, "labelPadding": 14}},
            "y": {"field": "depth", "type": "quantitative", "scale": {"domain": [0, 125], "reverse": true, "nice": false, "zero": false},
              "axis": {"orient": "left", "title": null, "zindex": 1, "values": [0, 5, 10, 15, 20, 25, 30, 35, 40, 45, 50, 55, 60, 65, 70, 75, 80, 85, 90, 95, 100, 105, 110, 115, 120, 125], "format": "d", "labelExpr": "datum.value % 10 == 0 && datum.value < 125 ? datum.label : ''", "domainColor": "#444444", "tickColor": "#444444", "tickSize": 6, "labelPadding": 10.7, "grid": true, "gridColor": "#444444", "gridDash": [5, 5], "gridWidth": 1.2, "gridOpacity": {"condition": {"test": "datum.value % 10 == 0 && datum.value > 0 && datum.value < 125 && datum.value != 20 && datum.value != 30", "value": 1}, "value": 0}}},
            "color": {"field": "series", "type": "nominal", "scale": {"domain": ["totPAHs (mg/kg)"], "range": ["#993366"]},
              "legend": {"orient": "none", "legendX": 69.3, "legendY": 62, "title": null, "padding": 4, "symbolSize": 2116, "symbolStrokeWidth": 1.5, "labelOffset": 3, "labelFont": "Liberation Sans", "labelFontSize": 21, "labelColor": "#000000", "labelLimit": 0,
                "labelExpr": "split(datum.label, ' ')", "zindex": 2,
                "encoding": {
                  "symbols": {
                    "shape": {"value": "M-1,0L1,0M0,-0.24L0.24,0L0,0.24L-0.24,0Z"},
                    "fill": {"value": "#993366"}, "stroke": {"value": "#993366"}, "strokeWidth": {"value": 1.5}, "opacity": {"value": 1}
                  },
                  "labels": {"lineHeight": {"value": 26}}
                }}},
            "order": {"field": "depth", "type": "quantitative"}
          }
        },
        {
          "data": {"name": "pah"},
          "mark": {"type": "point", "filled": true, "opacity": 1, "strokeWidth": 0, "shape": "diamond", "size": 110, "color": "#993366"},
          "encoding": {
            "x": {"field": "value", "type": "quantitative", "scale": {"domain": [0, 90], "nice": false, "zero": false}, "axis": null},
            "y": {"field": "depth", "type": "quantitative", "scale": {"domain": [0, 125], "reverse": true, "nice": false, "zero": false}, "axis": null}
          }
        }
      ]
    }
  ],
  "resolve": {
    "scale": {"color": "independent"},
    "legend": {"color": "independent"}
  },
  "config": {
    "view": {"stroke": null},
    "font": "Liberation Sans",
    "axis": {"labelFont": "Liberation Sans", "labelColor": "#000000", "labelFontSize": 21, "labelOverlap": false, "labelFlush": false, "domainWidth": 1.3, "tickWidth": 1.3}
  }
}
